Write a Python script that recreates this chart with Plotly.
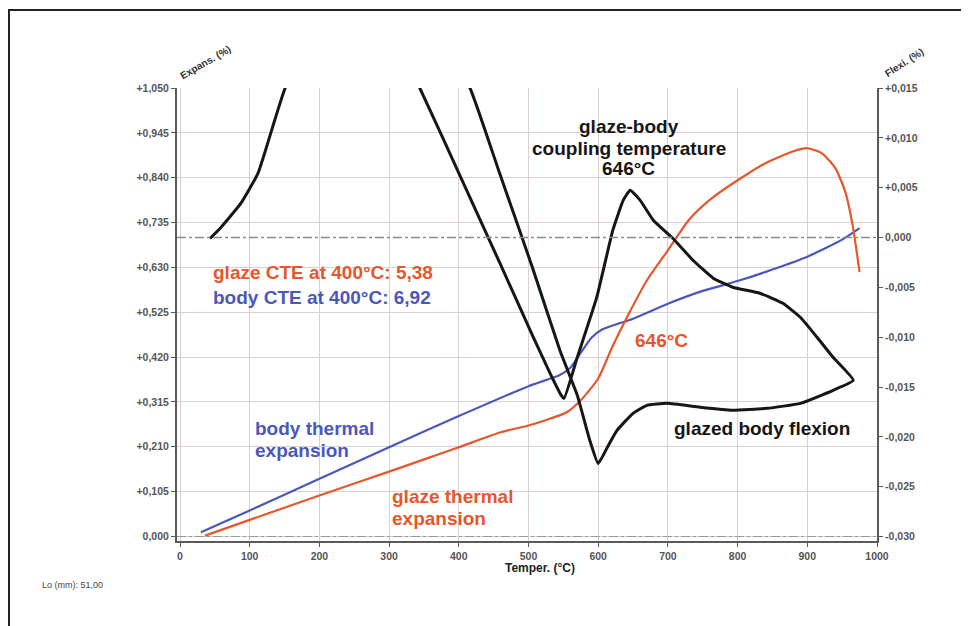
import plotly.graph_objects as go

# ---------------- data ----------------
body_T = [30, 100, 200, 300, 400, 500, 545, 560, 575, 590, 605, 650, 700, 750, 800, 850, 900, 950, 975]
body_exp = [0.010, 0.061, 0.135, 0.209, 0.282, 0.352, 0.378, 0.395, 0.430, 0.465, 0.484, 0.510, 0.545,
            0.575, 0.598, 0.625, 0.655, 0.695, 0.722]

glaze_T = [36, 100, 200, 300, 400, 460, 500, 520, 555, 575, 600, 620, 645, 670, 700, 730, 760, 800,
           840, 880, 900, 920, 940, 955, 965, 975]
glaze_exp = [0.002, 0.039, 0.096, 0.152, 0.209, 0.244, 0.260, 0.270, 0.291, 0.319, 0.370, 0.443, 0.525,
             0.600, 0.670, 0.741, 0.788, 0.834, 0.874, 0.902, 0.909, 0.898, 0.863, 0.804, 0.729, 0.619]

# heating then cooling path of the glazed body flexion
flex_T = [43, 59, 87.5, 112, 136, 151, 200, 250, 300, 344, 402, 459, 506, 531, 547, 551, 570, 598,
          621, 636, 646, 660, 679, 707, 736, 765, 793, 832, 865, 890, 914, 937, 966,
          937, 890, 842, 793, 746, 699, 670, 650, 627, 613, 600, 588, 570, 545, 506,
          459, 416, 380]
flex_val = [-0.0001, 0.00104, 0.00345, 0.00646, 0.01179, 0.0150, 0.021, 0.024, 0.021, 0.0150,
            0.00616, -0.00258, -0.00986, -0.01363, -0.01584, -0.01614, -0.01202, -0.00599,
            0.00074, 0.00375, 0.00475, 0.00375, 0.00174, -0.00007, -0.00228, -0.00408, -0.00499,
            -0.00559, -0.0066, -0.008, -0.01001, -0.01202, -0.01433,
            -0.01533, -0.01664, -0.01714, -0.01734, -0.01704, -0.01664, -0.01684, -0.01764,
            -0.01935, -0.02106, -0.02267, -0.02036, -0.01584, -0.01132, -0.00308,
            0.00636, 0.0150, 0.019]

x_ticks = [0, 100, 200, 300, 400, 500, 600, 700, 800, 900, 1000]
exp_ticks = [0, 0.105, 0.21, 0.315, 0.42, 0.525, 0.63, 0.735, 0.84, 0.945, 1.05]
exp_ticktext = ["0,000", "+0,105", "+0,210", "+0,315", "+0,420", "+0,525", "+0,630", "+0,735",
                "+0,840", "+0,945", "+1,050"]
flex_ticks = [-0.03, -0.025, -0.02, -0.015, -0.01, -0.005, 0, 0.005, 0.01, 0.015]
flex_ticktext = ["-0,030", "-0,025", "-0,020", "-0,015", "-0,010", "-0,005", "0,000",
                 "+0,005", "+0,010", "+0,015"]

ORANGE = "#e5572c"
BLUE = "#4a57bd"
BLACK = "#161616"
FONT = "Liberation Sans"

fig = go.Figure()
fig.add_trace(go.Scatter(x=body_T, y=body_exp, mode="lines",
                         line=dict(color=BLUE, width=2.2, shape="spline", smoothing=0.6),
                         showlegend=False, yaxis="y"))
fig.add_trace(go.Scatter(x=glaze_T, y=glaze_exp, mode="lines",
                         line=dict(color=ORANGE, width=2.2, shape="spline", smoothing=0.6),
                         showlegend=False, yaxis="y"))
fig.add_trace(go.Scatter(x=flex_T, y=flex_val, mode="lines",
                         line=dict(color=BLACK, width=3, shape="spline", smoothing=0.4),
                         showlegend=False, yaxis="y2"))

tickfont = dict(family=FONT, size=10.5, color="#555", weight="bold")

fig.update_layout(
    width=969, height=626,
    margin=dict(l=169, r=100, t=80, b=93),
    paper_bgcolor="white", plot_bgcolor="white",
    showlegend=False,
    xaxis=dict(range=[-4.3, 1000], tickvals=x_ticks, ticktext=[str(v) for v in x_ticks],
               showgrid=True, gridcolor="#dccfcf", gridwidth=1, zeroline=False,
               showline=True, linecolor="#5a5a5a", linewidth=2,
               ticks="outside", ticklen=4, tickcolor="#5a5a5a", tickfont=tickfont),
    yaxis=dict(range=[-0.0105, 1.05], tickvals=exp_ticks, ticktext=exp_ticktext,
               showgrid=True, gridcolor="#dccfcf", gridwidth=1, zeroline=False,
               showline=True, linecolor="#5a5a5a", linewidth=2,
               ticks="outside", ticklen=4, tickcolor="#5a5a5a", tickfont=tickfont),
    yaxis2=dict(range=[-0.03045, 0.015], tickvals=flex_ticks, ticktext=flex_ticktext,
                overlaying="y", side="right", showgrid=False, zeroline=False,
                showline=True, linecolor="#5a5a5a", linewidth=2,
                ticks="outside", ticklen=4, tickcolor="#5a5a5a", tickfont=tickfont),
)

# reference lines (dash-dot)
fig.add_shape(type="line", xref="paper", x0=0, x1=1, yref="y2", y0=0, y1=0,
              line=dict(color="#8a8a8a", width=1.5, dash="dashdot"))
fig.add_shape(type="line", xref="paper", x0=0, x1=1, yref="y", y0=0, y1=0,
              line=dict(color="#9a9a9a", width=1.2, dash="dashdot"))

# outer frame
fig.add_shape(type="rect", xref="paper", yref="paper", x0=-0.2400, x1=1.2, y0=-0.26, y1=1.172,
              line=dict(color="#222", width=2), fillcolor="rgba(0,0,0,0)")


def note(text, x, y, color, xanchor="left", size=19):
    fig.add_annotation(text=text, x=x, y=y, xref="x", yref="y", showarrow=False,
                       xanchor=xanchor, yanchor="middle",
                       font=dict(family=FONT, size=size, color=color, weight="bold"))


note("glaze CTE at 400°C: 5,38", 44, 0.618, ORANGE)
note("body CTE at 400°C: 6,92", 44, 0.560, BLUE)
note("body thermal", 105, 0.254, BLUE)
note("expansion", 105, 0.202, BLUE)
note("glaze thermal", 301, 0.093, ORANGE)
note("expansion", 301, 0.043, ORANGE)
note("glaze-body", 644, 0.959, BLACK, "center")
note("coupling temperature", 644, 0.908, BLACK, "center")
note("646°C", 644, 0.861, BLACK, "center")
note("646°C", 691, 0.460, ORANGE, "center")
note("glazed body flexion", 706, 0.254, BLACK)

# axis titles
fig.add_annotation(text="Temper. (°C)", xref="paper", yref="paper", x=0.5186, y=-0.0596,
                   xanchor="center", yanchor="middle", showarrow=False,
                   font=dict(family=FONT, size=12, color="#222", weight="bold"))
fig.add_annotation(text="Expans. (%)", xref="paper", yref="paper", x=0.04, y=1.057,
                   xanchor="center", yanchor="middle", showarrow=False, textangle=-30,
                   font=dict(family=FONT, size=10, color="#333", weight="bold"))
fig.add_annotation(text="Flexi. (%)", xref="paper", yref="paper", x=1.0386, y=1.057,
                   xanchor="center", yanchor="middle", showarrow=False, textangle=-33,
                   font=dict(family=FONT, size=10, color="#333", weight="bold"))
fig.add_annotation(text="Lo (mm): 51,00", xref="paper", yref="paper", x=-0.15, y=-0.097,
                   xanchor="center", yanchor="middle", showarrow=False,
                   font=dict(family=FONT, size=9, color="#444"))

fig.write_html("out.html")
